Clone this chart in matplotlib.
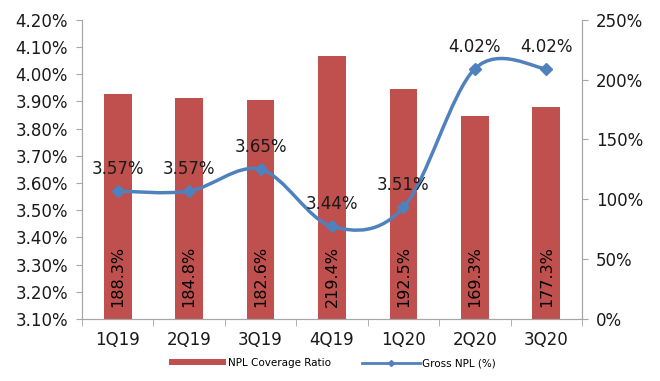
import matplotlib
matplotlib.use("Agg")
import matplotlib.pyplot as plt
from matplotlib.path import Path
from matplotlib.patches import PathPatch
from matplotlib.lines import Line2D
from matplotlib.patches import Patch
import numpy as np

categories = ["1Q19", "2Q19", "3Q19", "4Q19", "1Q20", "2Q20", "3Q20"]
coverage = [188.3, 184.8, 182.6, 219.4, 192.5, 169.3, 177.3]
gross_npl = [3.57, 3.57, 3.65, 3.44, 3.51, 4.02, 4.02]
left_ticks = [3.10, 3.20, 3.30, 3.40, 3.50, 3.60, 3.70, 3.80, 3.90, 4.00, 4.10, 4.20]
right_ticks = [0, 50, 100, 150, 200, 250]

bar_color = "#C0504D"
line_color = "#4F81BD"
spine_color = "#A6A6A6"

fig = plt.figure(figsize=(6.6, 3.81), dpi=100)
ax = fig.add_axes([0.124, 0.163, 0.758, 0.785])
ax2 = ax.twinx()

x = np.arange(len(categories))

ax2.set_zorder(1)
ax.set_zorder(2)
ax.patch.set_visible(False)

ax2.bar(x, coverage, width=0.39, color=bar_color, zorder=1)
for xi, v in zip(x, coverage):
    ax2.text(xi, 10, f"{v:.1f}%", rotation=90, ha="center", va="bottom",
             fontsize=11.5, color="black", zorder=3)
ax2.set_ylim(0, 250)
ax2.set_yticks(right_ticks)
ax2.set_yticklabels([f"{t}%" for t in right_ticks], fontsize=12, color="#1a1a1a")

# smoothed line (Catmull-Rom -> Bezier) on left axis
pts = np.column_stack([x, gross_npl]).astype(float)
verts = [tuple(pts[0])]
codes = [Path.MOVETO]
n = len(pts)
for i in range(n - 1):
    p0 = pts[i - 1] if i > 0 else pts[i]
    p1 = pts[i]
    p2 = pts[i + 1]
    p3 = pts[i + 2] if i + 2 < n else pts[i + 1]
    c1 = p1 + (p2 - p0) / 6.0
    c2 = p2 - (p3 - p1) / 6.0
    verts += [tuple(c1), tuple(c2), tuple(p2)]
    codes += [Path.CURVE4, Path.CURVE4, Path.CURVE4]
path = Path(verts, codes)
ax.add_patch(PathPatch(path, facecolor="none", edgecolor=line_color, lw=2.5,
                       zorder=4, capstyle="round", joinstyle="round"))
ax.plot(x, gross_npl, linestyle="none", marker="D", markersize=6.5,
        color=line_color, zorder=5)
for xi, v in zip(x, gross_npl):
    ax.annotate(f"{v:.2f}%", (xi, v), xytext=(0, 16), textcoords="offset points",
                ha="center", va="center", fontsize=12, color="#1a1a1a", zorder=6)

ax.set_ylim(3.10, 4.20)
ax.set_yticks(left_ticks)
ax.set_yticklabels([f"{t:.2f}%" for t in left_ticks], fontsize=12, color="#1a1a1a")
ax.set_xlim(-0.5, len(categories) - 0.5)
ax.set_xticks(x)
ax.set_xticklabels(categories, fontsize=12, color="#1a1a1a")
ax.tick_params(axis="x", length=0, pad=9)
ax.set_xticks(np.arange(-0.5, len(categories)), minor=True)
ax.tick_params(axis="x", which="minor", length=5, color=spine_color, direction="out")
ax.tick_params(axis="y", length=4, color=spine_color, direction="out", pad=6)
ax2.tick_params(axis="y", length=4, color=spine_color, direction="out", pad=6)

for a in (ax, ax2):
    a.spines["top"].set_visible(False)
    for s in ("left", "right", "bottom"):
        a.spines[s].set_color(spine_color)

handles = [Patch(facecolor=bar_color, edgecolor="none"),
           Line2D([0], [0], color=line_color, lw=2, marker="D", markersize=3)]
fig.legend(handles, ["NPL Coverage Ratio", "Gross NPL (%)"], loc="center",
           bbox_to_anchor=(0.503, 0.047), ncol=2, frameon=False, fontsize=7.5,
           handlelength=5.5, handleheight=0.5, columnspacing=3, handletextpad=0.2)

fig.savefig("out.png", dpi=100)
